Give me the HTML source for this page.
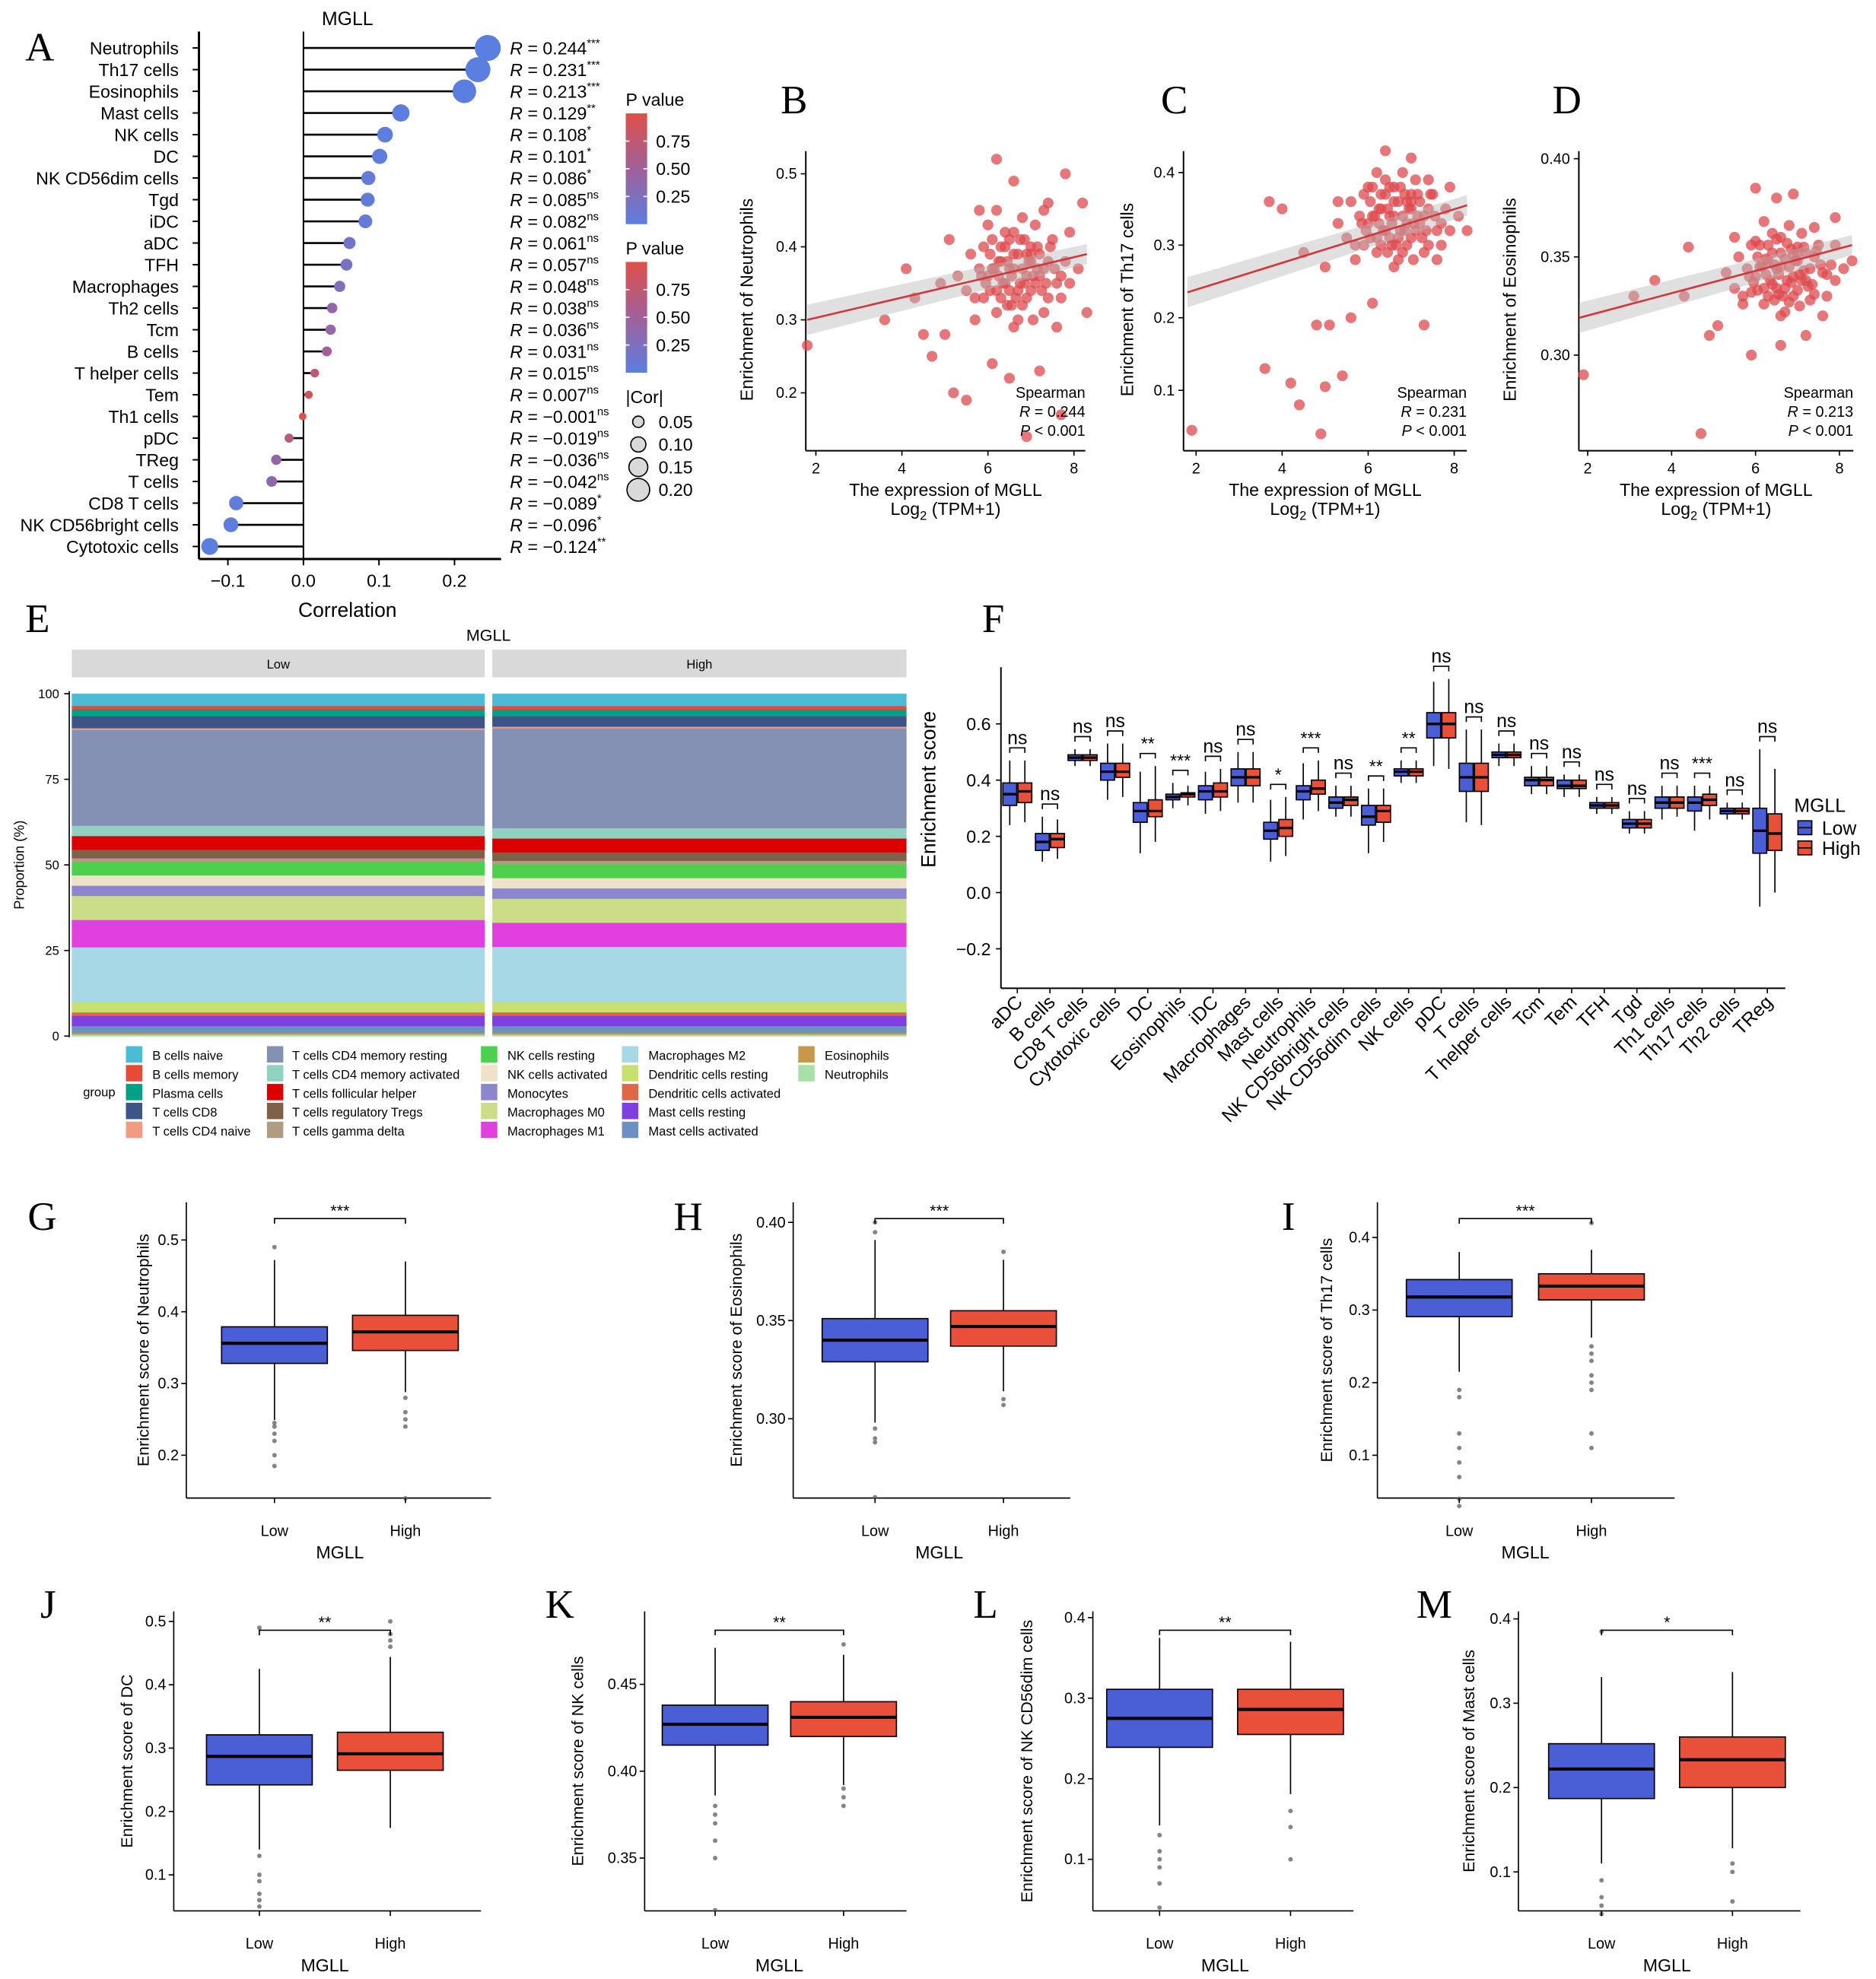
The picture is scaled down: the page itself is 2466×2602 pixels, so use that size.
<!DOCTYPE html>
<html><head><meta charset="utf-8"><style>
html,body{margin:0;padding:0;background:#fff}
svg{display:block;font-family:"Liberation Sans",Arial,sans-serif}
.lt{font-family:"Liberation Serif",serif}
</style></head><body>
<svg id="fig" xmlns="http://www.w3.org/2000/svg" width="2466" height="2602" viewBox="0 0 1490 1572">
<defs>
<linearGradient id="pgrad" x1="0" y1="1" x2="0" y2="0"><stop offset="0" stop-color="#5B7FE0"/><stop offset="0.5" stop-color="#A0609A"/><stop offset="1" stop-color="#E0504A"/></linearGradient>
</defs>
</svg>
<script>
// ---------- DATA ----------
const aCells=["Neutrophils","Th17 cells","Eosinophils","Mast cells","NK cells","DC","NK CD56dim cells","Tgd","iDC","aDC","TFH","Macrophages","Th2 cells","Tcm","B cells","T helper cells","Tem","Th1 cells","pDC","TReg","T cells","CD8 T cells","NK CD56bright cells","Cytotoxic cells"];
const aCor=[0.244,0.231,0.213,0.129,0.108,0.101,0.086,0.085,0.082,0.061,0.057,0.048,0.038,0.036,0.031,0.015,0.007,-0.001,-0.019,-0.036,-0.042,-0.089,-0.096,-0.124];
const aP=[0.0,0.0,0.0,0.004,0.016,0.025,0.055,0.06,0.07,0.17,0.2,0.28,0.4,0.42,0.49,0.74,0.88,0.98,0.67,0.42,0.35,0.047,0.032,0.006];
const aSig=["***","***","***","**","*","*","*","ns","ns","ns","ns","ns","ns","ns","ns","ns","ns","ns","ns","ns","ns","*","*","**"];
const aTicks=[-0.1,0.0,0.1,0.2];

const bX=[6.0,6.3,6.5,6.8,7.0,7.2,6.6,6.9,7.4,7.6,6.2,6.4,5.8,5.9,6.7,7.1,7.3,6.1,6.9,7.5,7.8,6.4,6.7,5.6,5.5,7.0,6.5,7.2,6.8,6.3,7.7,8.1,5.3,6.0,7.4,6.6,7.9,6.2,5.7,7.6,6.85,6.45,7.15,6.75,6.05,5.95,7.35,6.55,7.05,6.25,1.8,6.9,6.2,4.9,4.3,5.2,5.5,4.5,3.6,7.3,8.2,7.8,6.6,5.8,7.7,6.1,6.5,7.2,5.1,4.1,5.0,8.3,4.7,
 6.15,6.35,6.6,6.95,7.25,6.45,6.75,7.05,7.45,5.85,6.05,6.55,6.85,7.15,7.55,6.25,6.65,7.0,6.4,6.9,7.3,5.7,6.1,6.7,7.1,7.7,6.3,6.8,7.4,5.9,6.5,7.0,7.9,6.2,6.6];
const bY=[0.36,0.38,0.34,0.37,0.40,0.36,0.42,0.33,0.38,0.35,0.31,0.40,0.37,0.33,0.39,0.43,0.31,0.41,0.36,0.41,0.38,0.35,0.30,0.39,0.34,0.34,0.37,0.39,0.44,0.33,0.33,0.37,0.36,0.43,0.46,0.29,0.42,0.45,0.30,0.29,0.41,0.38,0.37,0.35,0.39,0.35,0.35,0.32,0.30,0.36,0.265,0.14,0.52,0.35,0.33,0.20,0.19,0.28,0.30,0.45,0.46,0.50,0.49,0.45,0.17,0.24,0.22,0.23,0.41,0.37,0.28,0.31,0.25,
 0.37,0.35,0.39,0.38,0.34,0.32,0.41,0.36,0.40,0.36,0.34,0.36,0.35,0.40,0.37,0.38,0.33,0.38,0.42,0.39,0.37,0.33,0.37,0.34,0.35,0.36,0.40,0.32,0.33,0.40,0.41,0.39,0.35,0.34,0.37];
const cX=[6.0,6.3,6.5,6.8,7.0,7.2,6.6,6.9,7.4,7.6,6.2,6.4,5.8,5.9,6.7,7.1,7.3,6.1,6.9,7.5,7.8,6.4,6.7,5.6,5.5,7.0,6.5,7.2,6.8,6.3,7.7,8.1,5.3,6.0,7.4,6.6,7.9,6.2,5.7,7.6,6.85,6.45,7.15,6.75,6.05,5.95,7.35,6.55,7.05,6.25,1.9,4.2,4.4,5.0,4.9,5.4,3.6,4.8,5.1,4.0,3.7,4.5,5.0,6.4,7.0,8.3,5.6,7.3,6.1,5.3,
 6.15,6.35,6.6,6.95,7.25,6.45,6.75,7.05,7.45,5.85,6.05,6.55,6.85,7.15,7.55,6.25,6.65,7.0,6.4,6.9,7.3,5.7,6.1,6.7,7.1,7.7,6.3,6.8,7.4,5.9,6.5,7.0,7.9,6.2,6.6];
const cY=[0.33,0.35,0.31,0.34,0.37,0.33,0.38,0.30,0.35,0.32,0.29,0.37,0.34,0.30,0.36,0.39,0.29,0.38,0.33,0.37,0.35,0.32,0.28,0.36,0.31,0.31,0.34,0.36,0.40,0.30,0.30,0.34,0.33,0.38,0.39,0.27,0.38,0.40,0.28,0.28,0.37,0.35,0.34,0.32,0.36,0.32,0.32,0.30,0.28,0.33,0.045,0.11,0.08,0.105,0.04,0.12,0.13,0.19,0.19,0.35,0.36,0.29,0.27,0.43,0.42,0.32,0.20,0.19,0.22,0.36,
 0.34,0.32,0.36,0.35,0.31,0.29,0.38,0.33,0.37,0.33,0.31,0.33,0.32,0.37,0.34,0.35,0.30,0.35,0.39,0.36,0.34,0.30,0.34,0.31,0.32,0.33,0.37,0.29,0.30,0.37,0.38,0.36,0.32,0.31,0.34];
const dX=[6.0,6.3,6.5,6.8,7.0,7.2,6.6,6.9,7.4,7.6,6.2,6.4,5.8,5.9,6.7,7.1,7.3,6.1,6.9,7.5,7.8,6.4,6.7,5.6,5.5,7.0,6.5,7.2,6.8,6.3,7.7,8.1,5.3,6.0,7.4,6.6,7.9,6.2,5.7,7.6,6.85,6.45,7.15,6.75,6.05,5.95,7.35,6.55,7.05,6.25,1.9,6.0,6.5,4.7,5.9,6.6,4.3,3.6,3.1,4.4,8.3,7.2,5.1,4.9,5.5,6.9,7.9,
 6.15,6.35,6.6,6.95,7.25,6.45,6.75,7.05,7.45,5.85,6.05,6.55,6.85,7.15,7.55,6.25,6.65,7.0,6.4,6.9,7.3,5.7,6.1,6.7,7.1,7.7,6.3,6.8,7.4,5.9,6.5,7.0,7.9,6.2,6.6];
const dY=[0.340,0.348,0.334,0.345,0.355,0.338,0.360,0.330,0.350,0.342,0.326,0.352,0.344,0.332,0.349,0.362,0.328,0.356,0.340,0.356,0.346,0.336,0.322,0.350,0.334,0.333,0.344,0.352,0.366,0.330,0.330,0.344,0.342,0.358,0.365,0.320,0.356,0.368,0.326,0.320,0.354,0.346,0.343,0.338,0.350,0.337,0.336,0.331,0.325,0.341,0.290,0.385,0.380,0.260,0.300,0.305,0.330,0.338,0.330,0.355,0.348,0.310,0.315,0.310,0.360,0.382,0.370,
 0.345,0.338,0.352,0.348,0.335,0.328,0.357,0.341,0.353,0.340,0.333,0.341,0.337,0.355,0.346,0.349,0.330,0.348,0.362,0.351,0.344,0.330,0.345,0.334,0.338,0.341,0.356,0.327,0.331,0.356,0.359,0.352,0.338,0.334,0.345];
const bFit=[0.300,0.390], cFit=[0.235,0.355], dFit=[0.319,0.356];

const eTypes=["B cells naive","B cells memory","Plasma cells","T cells CD8","T cells CD4 naive","T cells CD4 memory resting","T cells CD4 memory activated","T cells follicular helper","T cells regulatory Tregs","T cells gamma delta","NK cells resting","NK cells activated","Monocytes","Macrophages M0","Macrophages M1","Macrophages M2","Dendritic cells resting","Dendritic cells activated","Mast cells resting","Mast cells activated","Eosinophils","Neutrophils"];
const eLow=[0.035,0.01,0.02,0.035,0.005,0.28,0.03,0.04,0.025,0.01,0.04,0.03,0.03,0.07,0.08,0.16,0.03,0.01,0.03,0.02,0.005,0.005];
const eHigh=[0.035,0.01,0.02,0.03,0.005,0.29,0.03,0.04,0.025,0.01,0.04,0.03,0.03,0.07,0.07,0.16,0.03,0.01,0.03,0.02,0.005,0.005];
const eColors=["#4DBBD5","#E64B35","#00A087","#3C5488","#F39B7F","#8491B4","#91D1C2","#DC0000","#7E6148","#B09C85","#4DD04D","#EEE2C8","#8C86CC","#CCDD88","#E040DD","#A6D8E6","#C8E070","#E0664A","#8040E0","#6C90C4","#C8964C","#A8E0A8"];

const fCats=["aDC","B cells","CD8 T cells","Cytotoxic cells","DC","Eosinophils","iDC","Macrophages","Mast cells","Neutrophils","NK CD56bright cells","NK CD56dim cells","NK cells","pDC","T cells","T helper cells","Tcm","Tem","TFH","Tgd","Th1 cells","Th17 cells","Th2 cells","TReg"];
const fLow=[[0.24,0.31,0.35,0.39,0.47],[0.11,0.15,0.18,0.21,0.27],[0.45,0.47,0.48,0.49,0.51],[0.33,0.40,0.43,0.46,0.53],[0.14,0.25,0.29,0.32,0.43],[0.30,0.33,0.34,0.35,0.39],[0.28,0.33,0.36,0.38,0.43],[0.32,0.38,0.41,0.44,0.50],[0.11,0.19,0.22,0.25,0.33],[0.26,0.33,0.36,0.38,0.46],[0.27,0.30,0.32,0.34,0.38],[0.14,0.24,0.27,0.31,0.37],[0.39,0.415,0.43,0.44,0.47],[0.45,0.55,0.60,0.64,0.75],[0.25,0.36,0.41,0.46,0.58],[0.45,0.48,0.49,0.50,0.53],[0.35,0.38,0.40,0.41,0.45],[0.34,0.37,0.38,0.40,0.42],[0.28,0.30,0.31,0.32,0.34],[0.21,0.23,0.245,0.26,0.29],[0.26,0.30,0.32,0.34,0.38],[0.22,0.29,0.32,0.34,0.38],[0.26,0.28,0.29,0.30,0.32],[-0.05,0.14,0.22,0.30,0.51]];
const fHigh=[[0.25,0.32,0.36,0.39,0.47],[0.12,0.16,0.19,0.21,0.26],[0.45,0.47,0.48,0.49,0.51],[0.34,0.41,0.43,0.46,0.53],[0.18,0.27,0.29,0.33,0.45],[0.31,0.34,0.35,0.355,0.38],[0.29,0.34,0.36,0.39,0.44],[0.32,0.38,0.41,0.44,0.50],[0.13,0.20,0.23,0.26,0.34],[0.29,0.35,0.37,0.40,0.47],[0.27,0.31,0.33,0.34,0.38],[0.18,0.25,0.29,0.31,0.37],[0.39,0.415,0.43,0.44,0.47],[0.44,0.55,0.60,0.64,0.76],[0.24,0.36,0.41,0.46,0.58],[0.45,0.48,0.49,0.50,0.53],[0.35,0.38,0.40,0.41,0.45],[0.34,0.37,0.38,0.40,0.42],[0.28,0.30,0.31,0.32,0.34],[0.21,0.23,0.245,0.26,0.29],[0.27,0.30,0.32,0.34,0.38],[0.26,0.31,0.33,0.35,0.38],[0.26,0.28,0.29,0.30,0.32],[0.00,0.15,0.21,0.28,0.44]];
const fSig=["ns","ns","ns","ns","**","***","ns","ns","*","***","ns","**","**","ns","ns","ns","ns","ns","ns","ns","ns","***","ns","ns"];
const fTicks=[-0.2,0.0,0.2,0.4,0.6];

const gLow=[0.249,0.328,0.356,0.379,0.472], gHigh=[0.288,0.346,0.372,0.395,0.47];
const gOutL=[0.245,0.24,0.23,0.22,0.20,0.185,0.49], gOutH=[0.28,0.26,0.25,0.24,0.14];
const hLow=[0.298,0.329,0.340,0.351,0.391], hHigh=[0.314,0.337,0.347,0.355,0.381];
const hOutL=[0.295,0.29,0.288,0.26,0.395,0.40], hOutH=[0.31,0.307,0.385];
const iLow=[0.215,0.291,0.318,0.342,0.38], iHigh=[0.262,0.314,0.333,0.350,0.383];
const iOutL=[0.19,0.18,0.13,0.11,0.09,0.07,0.04,0.03], iOutH=[0.25,0.24,0.23,0.21,0.20,0.19,0.13,0.11,0.42];
const jLow=[0.14,0.242,0.287,0.321,0.425], jHigh=[0.174,0.265,0.291,0.325,0.444];
const jOutL=[0.13,0.10,0.09,0.07,0.06,0.05,0.49], jOutH=[0.46,0.47,0.48,0.50];
const kLow=[0.386,0.415,0.427,0.438,0.471], kHigh=[0.392,0.42,0.431,0.44,0.467];
const kOutL=[0.38,0.375,0.37,0.36,0.35,0.32], kOutH=[0.39,0.385,0.38,0.473];
const lLow=[0.142,0.239,0.275,0.311,0.375], lHigh=[0.181,0.255,0.286,0.311,0.37];
const lOutL=[0.13,0.11,0.10,0.09,0.07,0.04], lOutH=[0.16,0.14,0.10];
const mLow=[0.11,0.187,0.222,0.252,0.331], mHigh=[0.128,0.20,0.233,0.26,0.337];
const mOutL=[0.09,0.07,0.06,0.05,0.385], mOutH=[0.11,0.10,0.065];

// ---------- HELPERS ----------
const svg=document.getElementById('fig');
const NS='http://www.w3.org/2000/svg';
function mk(tag,attrs,parent){const e=document.createElementNS(NS,tag);for(const k in attrs)e.setAttribute(k,attrs[k]);(parent||svg).appendChild(e);return e;}
function tx(x,y,s,size,anchor,parent,extra){const e=mk('text',Object.assign({x:x,y:y,'font-size':size,'text-anchor':anchor||'start',fill:'#000'},extra||{}),parent);e.textContent=s;return e;}
function lin(v0,p0,v1,p1){return v=>p0+(v-v0)*(p1-p0)/(v1-v0);}
function grp(name){const g=mk('g',{});return g;}

[["A",20,48],["B",620,90],["C",922,90],["D",1233,90],["E",20,502],["F",780,502],["G",22,977],["H",535,977],["I",1018,977],["J",32,1285],["K",433,1285],["L",773,1285],["M",1125,1285]].forEach(l=>{
 const t=tx(l[1],l[2],l[0],32,'start',svg,{class:'lt'});
 
 
});

// ---------- PANEL A ----------
(function(){
 const g=grp('panel-a-lollipop');
 const xs=lin(0,241,0.1,301);
 const ys=i=>38+i*17.22;
 const pcol=p=>{const a=[91,127,224],m=[160,96,154],b=[224,80,74];let c;if(p<0.5){const t=p/0.5;c=a.map((v,k)=>Math.round(v+(m[k]-v)*t));}else{const t=(p-0.5)/0.5;c=m.map((v,k)=>Math.round(v+(b[k]-v)*t));}return 'rgb('+c.join(',')+')';};
 tx(276,20,'MGLL',15,'middle',g);
 mk('line',{x1:158,y1:25,x2:158,y2:444,stroke:'#000','stroke-width':1.8},g);
 mk('line',{x1:158,y1:444,x2:398,y2:444,stroke:'#000','stroke-width':1.8},g);
 mk('line',{x1:xs(0),y1:25,x2:xs(0),y2:444,stroke:'#000','stroke-width':1.2},g);
 aTicks.forEach(t=>{mk('line',{x1:xs(t),y1:444,x2:xs(t),y2:449,stroke:'#000','stroke-width':1.2},g);tx(xs(t),466,(t<0?'−':'')+Math.abs(t).toFixed(1),14,'middle',g);});
 tx(276,490,'Correlation',16,'middle',g);
 aCells.forEach((c,i)=>{
  const y=ys(i);
  mk('line',{x1:153,y1:y,x2:158,y2:y,stroke:'#000','stroke-width':1.2},g);
  const lab=tx(142,y+5,c,14,'end',g);
  
  const st=mk('line',{x1:xs(0),y1:y,x2:xs(aCor[i]),y2:y,stroke:'#000','stroke-width':1.6},g);
  
  const d=mk('circle',{cx:xs(aCor[i]),cy:y,r:3+30*Math.abs(aCor[i]),fill:pcol(aP[i])},g);
  
  
  const r=tx(405,y+5,'',14,'start',g);
  
  r.innerHTML='<tspan font-style="italic">R</tspan> = '+(aCor[i]<0?'−':'')+Math.abs(aCor[i]).toFixed(3)+'<tspan font-size="9" dy="-6">'+aSig[i]+'</tspan>';
 });
 [[84,90],[202,208]].forEach(L=>{
  tx(497,L[0],'P value',14,'start',g);
  mk('rect',{x:497,y:L[1],width:17,height:88,fill:'url(#pgrad)'},g);
  [[0.75,22],[0.5,44],[0.25,66]].forEach(v=>{tx(521,L[1]+v[1]+5,v[0].toFixed(2),14,'start',g);mk('line',{x1:497,y1:L[1]+v[1],x2:500,y2:L[1]+v[1],stroke:'#fff'},g);mk('line',{x1:511,y1:L[1]+v[1],x2:514,y2:L[1]+v[1],stroke:'#fff'},g);});
 });
 tx(497,320,'|Cor|',14,'start',g);
 [0.05,0.10,0.15,0.20].forEach((v,k)=>{const y=335+k*18;mk('circle',{cx:507,cy:y,r:3+30*v,fill:'#d9d9d9',stroke:'#000','stroke-width':1},g);tx(523,y+5,v.toFixed(2),14,'start',g);});
})();

// ---------- PANELS B C D ----------
function scatter(name,X,Y,fit,cfg){
 const g=grp(name);
 const xs=lin(cfg.xa[0],cfg.xa[1],cfg.xb[0],cfg.xb[1]);
 const ys=lin(cfg.ya[0],cfg.ya[1],cfg.yb[0],cfg.yb[1]);
 mk('line',{x1:cfg.l,y1:120,x2:cfg.l,y2:358,stroke:'#000','stroke-width':1.2},g);
 mk('line',{x1:cfg.l,y1:358,x2:cfg.r,y2:358,stroke:'#000','stroke-width':1.2},g);
 [2,4,6,8].forEach(t=>{mk('line',{x1:xs(t),y1:358,x2:xs(t),y2:362,stroke:'#000'},g);tx(xs(t),376,String(t),12,'middle',g);});
 cfg.yt.forEach(t=>{mk('line',{x1:cfg.l-4,y1:ys(t),x2:cfg.l,y2:ys(t),stroke:'#000'},g);tx(cfg.l-7,ys(t)+4,t.toFixed(cfg.dec),12,'end',g);});
 X.forEach((x,i)=>{const p=mk('circle',{cx:xs(x),cy:ys(Y[i]),r:4.3,fill:'#DC4A4E','fill-opacity':0.75},g);
  
  });
 const x0=1.8,x1=8.3;
 mk('polygon',{points:[xs(x0)+','+(ys(fit[0])-12),xs(x1)+','+(ys(fit[1])-8),xs(x1)+','+(ys(fit[1])+8),xs(x0)+','+(ys(fit[0])+12)].join(' '),fill:'#bbb','fill-opacity':0.45},g);
 const fl=mk('line',{x1:xs(x0),y1:ys(fit[0]),x2:xs(x1),y2:ys(fit[1]),stroke:'#D0383C','stroke-width':1.6},g);
 
 tx(cfg.r,316,'Spearman',12,'end',g);
 const r=tx(cfg.r,331,'',12,'end',g);r.innerHTML='<tspan font-style="italic">R</tspan> = '+cfg.R;
 const p=tx(cfg.r,346,'',12,'end',g);p.innerHTML='<tspan font-style="italic">P</tspan> &lt; 0.001';
 const cx=(cfg.l+cfg.r)/2;
 tx(cx,394,'The expression of MGLL',14,'middle',g);
 const lg=tx(cx,409,'',14,'middle',g);lg.innerHTML='Log<tspan font-size="10" dy="4">2</tspan><tspan dy="-4"> (TPM+1)</tspan>';
 tx(0,0,cfg.yl,14,'middle',g,{transform:'translate('+cfg.tx+',238) rotate(-90)'});
}
scatter('panel-b-scatter',bX,bY,bFit,{l:640,r:862,xa:[2,648],xb:[8,853],ya:[0.5,138],yb:[0.2,312],yt:[0.2,0.3,0.4,0.5],dec:1,R:'0.244',yl:'Enrichment of Neutrophils',tx:598});
scatter('panel-c-scatter',cX,cY,cFit,{l:940,r:1165,xa:[2,950],xb:[8,1155],ya:[0.4,137],yb:[0.1,310],yt:[0.1,0.2,0.3,0.4],dec:1,R:'0.231',yl:'Enrichment of Th17 cells',tx:900});
scatter('panel-d-scatter',dX,dY,dFit,{l:1254,r:1472,xa:[2,1261],xb:[8,1461],ya:[0.40,126],yb:[0.30,282],yt:[0.30,0.35,0.40],dec:2,R:'0.213',yl:'Enrichment of Eosinophils',tx:1204});

// ---------- PANEL E ----------
(function(){
 const g=grp('panel-e-stacked-bars');
 tx(388,509,'MGLL',13,'middle',g);
 const ys=lin(0,823,100,551);
 [[57,385,'Low',eLow],[391,720,'High',eHigh]].forEach(f=>{
  mk('rect',{x:f[0],y:516,width:f[1]-f[0],height:22,fill:'#d9d9d9'},g);
  tx((f[0]+f[1])/2,531,f[2],10,'middle',g);
  const sum=f[3].reduce((a,b)=>a+b,0);
  let acc=0;
  for(let i=f[3].length-1;i>=0;i--){
   const v=f[3][i]/sum*100;
   const b=mk('rect',{x:f[0],y:ys(acc+v),width:f[1]-f[0],height:ys(acc)-ys(acc+v)+0.3,fill:eColors[i]},g);
   
   
   acc+=v;
  }
 });
 mk('line',{x1:55,y1:549,x2:55,y2:824,stroke:'#000','stroke-width':1},g);
 [0,25,50,75,100].forEach(t=>{mk('line',{x1:51,y1:ys(t),x2:55,y2:ys(t),stroke:'#000'},g);tx(47,ys(t)+3.5,String(t),10,'end',g);});
 tx(0,0,'Proportion (%)',11,'middle',g,{transform:'translate(19,687) rotate(-90)'});
 tx(66,871,'group',10,'start',g);
 const cols=[[100,121],[212,232],[382,403],[494,515],[634,655]];
 eTypes.forEach((t,i)=>{const c=cols[Math.floor(i/5)],y=838+(i%5)*15;
  const sq=mk('rect',{x:c[0],y:y-7,width:13,height:13,fill:eColors[i]},g);
  
  tx(c[1],y+4,t,10,'start',g);});
})();

// ---------- PANEL F ----------
(function(){
 const g=grp('panel-f-boxplots');
 const ys=lin(0.6,575,0.0,709);
 const xs=i=>808+i*25.9;
 mk('line',{x1:795,y1:530,x2:795,y2:785,stroke:'#000','stroke-width':1.2},g);
 mk('line',{x1:795,y1:785,x2:1418,y2:785,stroke:'#000','stroke-width':1.2},g);
 fTicks.forEach(t=>{mk('line',{x1:791,y1:ys(t),x2:795,y2:ys(t),stroke:'#000'},g);tx(787,ys(t)+5,(t<0?'−':'')+Math.abs(t).toFixed(1),14,'end',g);});
 tx(0,0,'Enrichment score',16,'middle',g,{transform:'translate(743,627) rotate(-90)'});
 function box(cx,d,col){
  mk('line',{x1:cx,y1:ys(d[0]),x2:cx,y2:ys(d[4]),stroke:'#000','stroke-width':1},g);
  const b=mk('rect',{x:cx-5.5,y:ys(d[3]),width:11,height:Math.max(1,ys(d[1])-ys(d[3])),fill:col,stroke:'#000','stroke-width':1},g);
  
  
  mk('line',{x1:cx-5.5,y1:ys(d[2]),x2:cx+5.5,y2:ys(d[2]),stroke:'#000','stroke-width':2},g);
 }
 fCats.forEach((c,i)=>{
  const cx=xs(i);
  box(cx-6,fLow[i],'#4A5FD5');box(cx+6,fHigh[i],'#E8503A');
  const top=ys(Math.max(fLow[i][4],fHigh[i][4]))-10;
  mk('path',{d:'M'+(cx-6)+','+(top+4)+'V'+top+'H'+(cx+6)+'V'+(top+4),fill:'none',stroke:'#000','stroke-width':1},g);
  tx(cx,top-3,fSig[i],fSig[i]=='ns'?15:14,'middle',g);
  mk('line',{x1:cx,y1:785,x2:cx,y2:789,stroke:'#000'},g);
  const l=tx(0,0,c,15,'end',g,{transform:'translate('+(cx+5)+',797) rotate(-45)'});
  
 });
 tx(1425,645,'MGLL',15,'start',g);
 mk('rect',{x:1428,y:652,width:11,height:11,fill:'#4A5FD5',stroke:'#000'},g);mk('line',{x1:1428,y1:657.5,x2:1439,y2:657.5,stroke:'#000'},g);
 tx(1447,663,'Low',15,'start',g);
 mk('rect',{x:1428,y:668,width:11,height:11,fill:'#E8503A',stroke:'#000'},g);mk('line',{x1:1428,y1:673.5,x2:1439,y2:673.5,stroke:'#000'},g);
 tx(1447,679,'High',15,'start',g);
})();

// ---------- PANELS G-M ----------
function two(name,low,high,outL,outH,c){
 const g=grp(name);
 const ys=lin(c.va[0],c.va[1],c.vb[0],c.vb[1]);
 mk('line',{x1:c.l,y1:c.t,x2:c.l,y2:c.b,stroke:'#000','stroke-width':1},g);
 mk('line',{x1:c.l,y1:c.b,x2:c.r,y2:c.b,stroke:'#000','stroke-width':1},g);
 c.ticks.forEach(t=>{mk('line',{x1:c.l-4,y1:ys(t),x2:c.l,y2:ys(t),stroke:'#000'},g);tx(c.l-6,ys(t)+4,t.toFixed(c.dec),12,'end',g);});
 [[c.lo,low,outL,'#4A5FD5','Low'],[c.hi,high,outH,'#E8503A','High']].forEach(s=>{
  const cx=s[0],d=s[1];
  mk('line',{x1:cx,y1:ys(d[0]),x2:cx,y2:ys(d[4]),stroke:'#000','stroke-width':1},g);
  const b=mk('rect',{x:cx-42,y:ys(d[3]),width:84,height:ys(d[1])-ys(d[3]),fill:s[3],stroke:'#000','stroke-width':1},g);
  
  
  mk('line',{x1:cx-42,y1:ys(d[2]),x2:cx+42,y2:ys(d[2]),stroke:'#000','stroke-width':2.5},g);
  s[2].forEach(o=>{const p=mk('circle',{cx:cx,cy:ys(o),r:1.8,fill:'#666','fill-opacity':0.8},g);
   });
  mk('line',{x1:cx,y1:c.b,x2:cx,y2:c.b+4,stroke:'#000'},g);
  tx(cx,c.b+30,s[4],12,'middle',g);
 });
 tx((c.lo+c.hi)/2,c.b+48,'MGLL',14,'middle',g);
 mk('path',{d:'M'+c.lo+','+(c.sy+4)+'V'+c.sy+'H'+c.hi+'V'+(c.sy+4),fill:'none',stroke:'#000','stroke-width':1},g);
 tx((c.lo+c.hi)/2,c.sy-2,c.sig,13,'middle',g);
 tx(0,0,c.yl,13,'middle',g,{transform:'translate('+c.tx+','+((c.t+c.b)/2)+') rotate(-90)'});
}
two('panel-g-boxplot',gLow,gHigh,gOutL,gOutH,{l:148,r:390,t:955,b:1190,va:[0.5,985],vb:[0.2,1156],ticks:[0.2,0.3,0.4,0.5],dec:1,lo:218,hi:322,sy:968,sig:'***',yl:'Enrichment score of Neutrophils',tx:118});
two('panel-h-boxplot',hLow,hHigh,hOutL,hOutH,{l:630,r:850,t:955,b:1190,va:[0.40,971],vb:[0.30,1127],ticks:[0.30,0.35,0.40],dec:2,lo:695,hi:797,sy:968,sig:'***',yl:'Enrichment score of Eosinophils',tx:589});
two('panel-i-boxplot',iLow,iHigh,iOutL,iOutH,{l:1094,r:1330,t:955,b:1190,va:[0.4,983],vb:[0.1,1156],ticks:[0.1,0.2,0.3,0.4],dec:1,lo:1159,hi:1264,sy:968,sig:'***',yl:'Enrichment score of Th17 cells',tx:1058});
two('panel-j-boxplot',jLow,jHigh,jOutL,jOutH,{l:138,r:382,t:1280,b:1518,va:[0.5,1288],vb:[0.2,1439],ticks:[0.1,0.2,0.3,0.4,0.5],dec:1,lo:206,hi:310,sy:1295,sig:'**',yl:'Enrichment score of DC',tx:105});
two('panel-k-boxplot',kLow,kHigh,kOutL,kOutH,{l:512,r:720,t:1280,b:1518,va:[0.45,1338],vb:[0.35,1476],ticks:[0.35,0.40,0.45],dec:2,lo:568,hi:670,sy:1295,sig:'**',yl:'Enrichment score of NK cells',tx:463});
two('panel-l-boxplot',lLow,lHigh,lOutL,lOutH,{l:868,r:1075,t:1280,b:1518,va:[0.4,1285],vb:[0.1,1477],ticks:[0.1,0.2,0.3,0.4],dec:1,lo:921,hi:1025,sy:1295,sig:'**',yl:'Enrichment score of NK CD56dim cells',tx:820});
two('panel-m-boxplot',mLow,mHigh,mOutL,mOutH,{l:1206,r:1430,t:1280,b:1518,va:[0.4,1286],vb:[0.1,1487],ticks:[0.1,0.2,0.3,0.4],dec:1,lo:1272,hi:1376,sy:1295,sig:'*',yl:'Enrichment score of Mast cells',tx:1171});
</script>
</body></html>
